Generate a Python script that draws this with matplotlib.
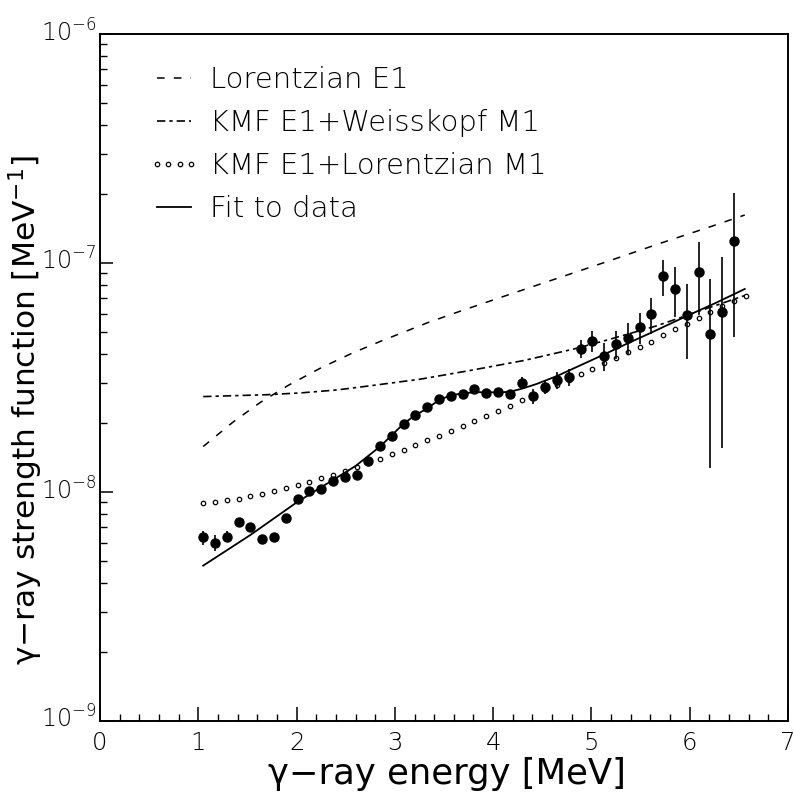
import numpy as np
import matplotlib
matplotlib.use("Agg")
import matplotlib.pyplot as plt
import matplotlib.transforms as mtransforms
from matplotlib.ticker import MultipleLocator, LogLocator, NullFormatter

# ---------------- data ----------------
energy = [1.05, 1.17, 1.29, 1.41, 1.53, 1.65, 1.77, 1.89, 2.01, 2.13,
          2.25, 2.37, 2.49, 2.61, 2.73, 2.85, 2.97, 3.09, 3.21, 3.33,
          3.45, 3.57, 3.69, 3.81, 3.93, 4.05, 4.17, 4.29, 4.41, 4.53,
          4.65, 4.77, 4.89, 5.01, 5.13, 5.25, 5.37, 5.49, 5.61, 5.73,
          5.85, 5.97, 6.09, 6.21, 6.33, 6.45]
strength = [6.34, 6.01, 6.38, 7.40, 7.01, 6.23, 6.34, 7.68, 9.29, 10.13,
            10.28, 11.17, 11.59, 11.86, 13.66, 15.84, 17.50, 19.87, 21.64, 23.44,
            25.54, 26.17, 26.78, 28.17, 27.05, 27.33, 26.70, 30.01, 26.25, 28.74,
            30.75, 31.78, 42.24, 45.77, 39.33, 44.37, 47.27, 52.39, 59.76, 87.48,
            77.0, 59.46, 91.6, 48.9, 60.9, 125.1]          # 1e-9 MeV^-3
strength_err = [0.45, 0.5, 0.35, 0.3, 0.25, 0.2, 0.22, 0.2, 0.25, 0.3,
                0.3, 0.3, 0.3, 0.3, 0.35, 0.4, 0.45, 0.5, 0.55, 0.7,
                0.7, 0.75, 0.8, 0.9, 0.9, 1.0, 1.1, 1.9, 2.0, 1.9,
                2.6, 2.7, 3.9, 4.7, 5.6, 6.2, 7.4, 8.3, 10.6, 15.6,
                19.1, 21.5, 32.3, 36.2, 45.3, 77.7]            # 1e-9

kmf_lor_energy = energy + [6.57]
kmf_lor = [8.95, 9.07, 9.20, 9.35, 9.57, 9.80, 10.10, 10.38, 10.69, 11.09,
           11.47, 11.86, 12.35, 12.85, 13.38, 13.98, 14.61, 15.28, 15.99, 16.81,
           17.61, 18.52, 19.41, 20.42, 21.47, 22.58, 23.74, 25.14, 26.52, 28.0,
           29.47, 30.99, 32.66, 34.55, 36.48, 38.48, 40.74, 43.06, 45.41, 48.37,
           51.37, 54.40, 57.67, 61.19, 64.75, 68.36, 71.97]  # 1e-9

lorentz_energy = [1.05, 1.36, 1.63, 1.92, 2.24, 2.56, 2.87, 3.34, 3.66, 4.17,
                  4.68, 5.19, 5.70, 6.21, 6.56]
lorentz = [15.8, 20.3, 24.6, 29.3, 34.7, 40.3, 45.8, 55.0, 61.5, 73.0,
           86.5, 102.5, 121.9, 144.0, 162.0]                    # 1e-9

kmf_weiss_energy = [1.05, 1.70, 2.05, 2.41, 2.75, 3.26, 3.76, 4.31, 4.82, 5.16,
                    5.66, 6.15, 6.56]
kmf_weiss = [26.1, 26.6, 27.1, 27.9, 29.1, 31.1, 33.9, 37.5, 42.1, 46.1,
             53.1, 62.8, 72.1]                                  # 1e-9

fit_energy = [1.05, 1.53, 2.00, 2.37, 2.60, 2.85, 3.09, 3.20, 3.33, 3.45,
              3.57, 3.69, 3.82, 3.93, 4.05, 4.17, 4.30, 4.44, 4.65, 4.85,
              5.13, 5.37, 5.62, 5.97, 6.27, 6.56]
fit = [4.77, 6.49, 9.0, 11.28, 12.99, 15.80, 19.89, 21.53, 23.20, 25.21,
       26.44, 26.98, 27.28, 27.28, 27.22, 27.39, 28.31, 29.61, 32.10, 35.14,
       39.9, 44.6, 49.9, 58.7, 67.1, 77.0]                       # 1e-9

legend_labels = ["Lorentzian E1", "KMF E1+Weisskopf M1",
                 "KMF E1+Lorentzian M1", "Fit to data"]
x_label = "\u03b3\u2212ray energy [MeV]"
y_label = "\u03b3\u2212ray strength function [MeV$^{\\mathdefault{-1}}$]"

scale = 1e-9

# ---------------- style ----------------
plt.rcParams['font.family'] = ['DejaVu Sans']
plt.rcParams['font.weight'] = 'light'
plt.rcParams['axes.unicode_minus'] = True

fig = plt.figure(figsize=(7.94, 8.0), dpi=100)
ax = fig.add_axes([100 / 794, 79 / 800, 688 / 794, 687 / 800])

s = lambda v: np.asarray(v) * scale

ax.plot(lorentz_energy, s(lorentz), color='black', lw=1.1,
        dashes=(5, 6), label=legend_labels[0])
ax.plot(kmf_weiss_energy, s(kmf_weiss), color='black', lw=1.2,
        dashes=(5.0, 2.4, 2.0, 2.4), label=legend_labels[1])
ax.plot(kmf_lor_energy, s(kmf_lor), linestyle='none', marker='o', ms=3.2,
        mfc='white', mec='black', mew=0.9, label=legend_labels[2])
ax.plot(fit_energy, s(fit), color='black', lw=1.3, label=legend_labels[3])
ax.errorbar(energy, s(strength), yerr=s(strength_err), fmt='o', color='black',
            ms=6.5, elinewidth=1.2, capsize=0, zorder=5)

ax.set_yscale('log')
ax.set_xlim(0, 7)
ax.set_ylim(1e-9, 1e-6)

ax.xaxis.set_major_locator(MultipleLocator(1))
ax.xaxis.set_minor_locator(MultipleLocator(0.2))
ax.yaxis.set_major_locator(LogLocator(base=10, numticks=10))
ax.yaxis.set_minor_locator(LogLocator(base=10, subs=np.arange(2, 10), numticks=20))
ax.yaxis.set_minor_formatter(NullFormatter())

for sp in ax.spines.values():
    sp.set_linewidth(1.4)

ax.tick_params(axis='x', which='major', direction='in', length=10, width=1.1,
               top=False, labelsize=17.5, pad=7)
ax.tick_params(axis='x', which='minor', direction='in', length=5, width=1.0, top=False)
ax.tick_params(axis='y', which='major', direction='in', length=9, width=1.1,
               right=False, labelsize=17, pad=3)
ax.tick_params(axis='y', which='minor', direction='in', length=5, width=1.0, right=False)

# lift the y tick labels a little so that the "10" sits on the tick
offset = mtransforms.ScaledTranslation(0, 4 / 100, fig.dpi_scale_trans)
for t in ax.yaxis.get_major_ticks():
    t.label1.set_transform(t.label1.get_transform() + offset)

ax.set_xlabel(x_label, fontsize=25.5, va='center')
ax.xaxis.set_label_coords(0.504, -0.077)
ax.set_ylabel(y_label, fontsize=22.5, va='center')
ax.yaxis.set_label_coords(-0.108, 0.452)

leg = ax.legend(loc='upper left', bbox_to_anchor=(0.0698, 0.9537), frameon=False,
                fontsize=21, borderpad=0, borderaxespad=0, handlelength=1.78,
                handletextpad=0.34, labelspacing=0.52, numpoints=4)

fig.savefig("out.png", dpi=100)
